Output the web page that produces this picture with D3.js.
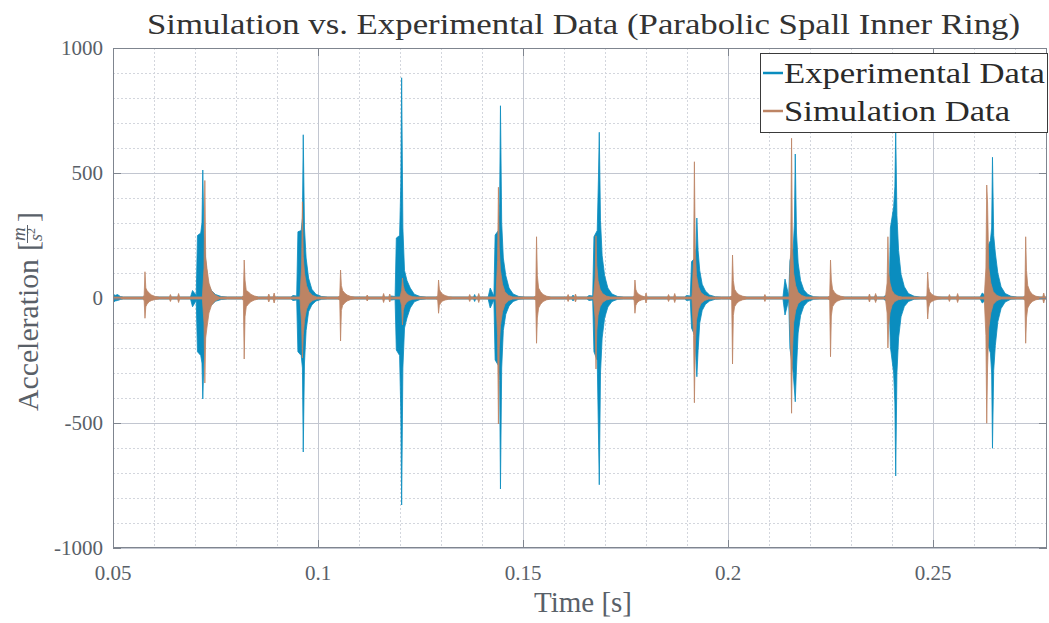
<!DOCTYPE html>
<html><head><meta charset="utf-8">
<script src="https://cdn.jsdelivr.net/npm/d3@7"></script>
<style>body{margin:0;background:#fff}svg{display:block}</style>
</head><body><svg id="c" width="1049" height="623"></svg>
<script>
// ---------------- DATA ----------------
const xTickValues = [0.05, 0.1, 0.15, 0.2, 0.25];
const xTickLabels = ["0.05", "0.1", "0.15", "0.2", "0.25"];
const yTickValues = [-1000, -500, 0, 500, 1000];
const yTickLabels = ["-1000", "-500", "0", "500", "1000"];
const seriesNames = ["Experimental Data", "Simulation Data"];

// Experimental: baseline points
const expBaseTime = [0.0500, 0.0505, 0.0511, 0.0518, 0.0525, 0.2778];
const expBaseHi   = [18, 10, 14, 6, 4, 4];
const expBaseLo   = [-20, -12, -10, -6, -4, -4];
// Experimental: impact bursts (time of main spike) with envelope samples at expOffsets
const expBurstTime = [0.0719, 0.0964, 0.1204, 0.1445, 0.1686, 0.1924, 0.2164, 0.2409, 0.2645];
const expOffsets   = [-0.0030, -0.0025, -0.0016, -0.0013, -0.0005, -0.0002, 0, 0.0003, 0.0007, 0.0013, 0.0021, 0.0031, 0.0045, 0.0060];
const expBurstHi = [
  [4, 30, 10, 250, 260, 300, 512, 245, 150, 55, 30, 14, 6, 4],
  [4, 10, 8, 265, 270, 320, 653, 280, 160, 80, 35, 15, 6, 4],
  [4, 8, 6, 240, 250, 460, 881, 280, 110, 70, 40, 15, 6, 4],
  [4, 40, 8, 252, 270, 380, 769, 300, 160, 90, 40, 16, 6, 4],
  [4, 10, 8, 245, 270, 480, 663, 310, 170, 90, 40, 16, 6, 4],
  [4, 10, 8, 145, 160, 200, 320, 190, 110, 55, 28, 12, 5, 4],
  [4, 76, 8, 150, 200, 300, 576, 260, 140, 70, 32, 14, 5, 4],
  [4, 10, 8, 280, 365, 445, 672, 330, 190, 95, 45, 18, 7, 4],
  [4, 20, 8, 200, 230, 280, 563, 250, 180, 100, 45, 18, 7, 4]
];
const expBurstLo = [
  [-4, -35, -10, -215, -230, -260, -404, -240, -110, -45, -28, -13, -6, -4],
  [-4, -10, -8, -215, -230, -280, -616, -260, -130, -55, -28, -12, -5, -4],
  [-4, -8, -6, -208, -230, -460, -828, -280, -120, -80, -40, -15, -6, -4],
  [-4, -40, -8, -248, -270, -330, -764, -280, -130, -65, -32, -14, -5, -4],
  [-4, -10, -8, -215, -250, -540, -747, -300, -160, -80, -36, -14, -5, -4],
  [-4, -10, -8, -120, -150, -250, -315, -210, -100, -50, -25, -12, -5, -4],
  [-4, -68, -8, -200, -300, -368, -415, -280, -140, -70, -32, -14, -5, -4],
  [-4, -10, -8, -195, -300, -420, -712, -300, -160, -75, -34, -14, -5, -4],
  [-4, -20, -8, -180, -220, -300, -601, -290, -190, -95, -42, -16, -5, -4]
];
const expBlipTime = [0.1382, 0.1622, 0.2360];
const expBlipAmp  = [14, 12, 12];

// Simulation: baseline points
const simBaseTime = [0.0500, 0.2778];
const simBaseHi   = [4, 4];
const simBaseLo   = [-4, -4];
// Simulation: impact bursts with envelope samples at simOffsets
const simBurstTime = [0.0578, 0.0724, 0.0820, 0.0962, 0.1055, 0.1206, 0.1294, 0.1440, 0.1533, 0.1678,
                      0.1773, 0.1918, 0.2011, 0.2155, 0.2250, 0.2390, 0.2487, 0.2631, 0.2726];
const simOffsets = [-0.0006, -0.0002, 0, 0.0002, 0.0005, 0.0010, 0.0016, 0.0025, 0.0035];
const simBurstHi = [
  [4, 10, 105, 40, 30, 20, 12, 6, 4],
  [4, 120, 470, 165, 120, 60, 30, 12, 4],
  [4, 10, 152, 72, 30, 25, 15, 8, 4],
  [4, 120, 385, 165, 100, 50, 25, 10, 4],
  [4, 10, 112, 50, 30, 20, 12, 6, 4],
  [4, 30, 80, 50, 30, 18, 10, 5, 4],
  [4, 8, 72, 35, 25, 15, 10, 5, 4],
  [4, 150, 443, 200, 110, 55, 25, 10, 4],
  [4, 10, 245, 90, 40, 25, 14, 7, 4],
  [4, 80, 249, 130, 70, 35, 18, 8, 4],
  [4, 8, 72, 35, 22, 14, 9, 5, 4],
  [4, 150, 545, 200, 90, 45, 22, 10, 4],
  [4, 10, 172, 70, 35, 22, 13, 7, 4],
  [4, 200, 639, 220, 100, 50, 22, 10, 4],
  [4, 10, 152, 72, 35, 22, 13, 7, 4],
  [4, 60, 245, 100, 60, 30, 15, 7, 4],
  [4, 8, 104, 45, 25, 15, 9, 5, 4],
  [4, 120, 452, 380, 120, 60, 25, 10, 4],
  [4, 10, 245, 110, 50, 28, 15, 7, 4]
];
const simBurstLo = [
  [-4, -10, -81, -35, -25, -15, -10, -6, -4],
  [-4, -100, -340, -160, -120, -60, -30, -12, -4],
  [-4, -10, -244, -75, -35, -25, -15, -8, -4],
  [-4, -100, -240, -150, -90, -45, -22, -10, -4],
  [-4, -10, -172, -50, -30, -20, -12, -6, -4],
  [-4, -30, -108, -50, -30, -18, -10, -5, -4],
  [-4, -8, -61, -30, -20, -12, -8, -5, -4],
  [-4, -150, -504, -200, -110, -55, -25, -10, -4],
  [-4, -10, -181, -80, -40, -25, -14, -7, -4],
  [-4, -80, -284, -130, -70, -35, -18, -8, -4],
  [-4, -8, -61, -30, -20, -12, -8, -5, -4],
  [-4, -150, -419, -200, -90, -45, -22, -10, -4],
  [-4, -10, -264, -70, -35, -22, -13, -7, -4],
  [-4, -200, -461, -220, -100, -50, -22, -10, -4],
  [-4, -10, -235, -72, -35, -22, -13, -7, -4],
  [-4, -60, -200, -110, -60, -30, -15, -7, -4],
  [-4, -8, -84, -40, -22, -14, -9, -5, -4],
  [-4, -150, -501, -280, -120, -60, -25, -10, -4],
  [-4, -10, -181, -80, -40, -25, -14, -7, -4]
];
const simBlipTime = [0.0640, 0.0660, 0.0880, 0.0893, 0.1120, 0.1160, 0.1175, 0.1370, 0.1392, 0.1610,
                     0.1628, 0.1800, 0.1855, 0.1870, 0.2090, 0.2345, 0.2360, 0.2540, 0.2560, 0.2770];
const simBlipAmp  = [14, 18, 16, 20, 12, 18, 16, 14, 18, 14, 16, 20, 14, 18, 14, 16, 18, 14, 18, 20];

// ---------------- BUILD ----------------
function buildSeries(baseT, baseHi, baseLo, bT, offs, bHi, bLo, blT, blA) {
  const pts = [];
  baseT.forEach((t, i) => pts.push({t, hi: baseHi[i], lo: baseLo[i]}));
  bT.forEach((t0, b) => offs.forEach((o, k) => pts.push({t: t0 + o, hi: bHi[b][k], lo: bLo[b][k]})));
  blT.forEach((t0, i) => {
    pts.push({t: t0 - 0.00025, hi: 4, lo: -4});
    pts.push({t: t0, hi: blA[i], lo: -blA[i]});
    pts.push({t: t0 + 0.00025, hi: 4, lo: -4});
  });
  pts.sort((a, b) => a.t - b.t);
  return pts;
}
const expData = buildSeries(expBaseTime, expBaseHi, expBaseLo, expBurstTime, expOffsets, expBurstHi, expBurstLo, expBlipTime, expBlipAmp);
const simData = buildSeries(simBaseTime, simBaseHi, simBaseLo, simBurstTime, simOffsets, simBurstHi, simBurstLo, simBlipTime, simBlipAmp);

const colors = ["#0a8dbf", "#bd8464"];
const L = 113, R = 1047, T = 48, B = 548;
const svg = d3.select("#c");
const x = d3.scaleLinear().domain([0.05, 0.2778]).range([L, R]);
const y = d3.scaleLinear().domain([-1000, 1000]).range([B, T]);
const FONT = "'Liberation Serif', 'Times New Roman', serif";
const axisCol = "#7f858f", labCol = "#596068";

svg.append("defs").append("clipPath").attr("id", "clip")
  .append("rect").attr("x", L).attr("y", T).attr("width", R - L).attr("height", B - T);

// grid
const g = svg.append("g");
const xMinor = d3.range(0.06, 0.2778, 0.01).filter(v => Math.abs(Math.round(v * 20) - v * 20) > 1e-6);
const yMinor = d3.range(-900, 1000, 100).filter(v => v % 500 !== 0);
g.selectAll(".xm").data(xMinor).join("line")
  .attr("x1", d => Math.round(x(d)) + 0.5).attr("x2", d => Math.round(x(d)) + 0.5).attr("y1", T).attr("y2", B)
  .attr("stroke", "#d3d6dd").attr("stroke-dasharray", "2,2");
g.selectAll(".ym").data(yMinor).join("line")
  .attr("y1", d => Math.round(y(d)) + 0.5).attr("y2", d => Math.round(y(d)) + 0.5).attr("x1", L).attr("x2", R)
  .attr("stroke", "#d3d6dd").attr("stroke-dasharray", "2,2");
g.selectAll(".xM").data(xTickValues).join("line")
  .attr("x1", d => Math.round(x(d)) + 0.5).attr("x2", d => Math.round(x(d)) + 0.5).attr("y1", T).attr("y2", B)
  .attr("stroke", "#c2c6d0");
g.selectAll(".yM").data(yTickValues).join("line")
  .attr("y1", d => Math.round(y(d)) + 0.5).attr("y2", d => Math.round(y(d)) + 0.5).attr("x1", L).attr("x2", R)
  .attr("stroke", "#c2c6d0");

// series
const area = d3.area().x(d => x(d.t)).y0(d => y(d.lo)).y1(d => y(d.hi));
const plot = svg.append("g").attr("clip-path", "url(#clip)");
[expData, simData].forEach((data, i) => {
  plot.append("path").datum(data).attr("d", area)
    .attr("fill", colors[i]).attr("stroke", colors[i]).attr("stroke-width", 0.8)
    .attr("stroke-linejoin", "miter");
});

// axes box and ticks
const ax = svg.append("g");
ax.append("rect").attr("x", L + 0.5).attr("y", T + 0.5).attr("width", R - L - 1).attr("height", B - T - 1)
  .attr("fill", "none").attr("stroke", axisCol);
const tl = 8;
ax.selectAll(".xt").data(xTickValues).join("path")
  .attr("d", d => { const p = Math.round(x(d)) + 0.5; return `M${p},${B}V${B - tl}M${p},${T}V${T + tl}`; })
  .attr("stroke", axisCol);
ax.selectAll(".yt").data(yTickValues).join("path")
  .attr("d", d => { const p = Math.round(y(d)) + 0.5; return `M${L},${p}H${L + tl}M${R},${p}H${R - tl}`; })
  .attr("stroke", axisCol);
ax.selectAll(".xl").data(xTickValues).join("text")
  .attr("x", d => x(d)).attr("y", 580).attr("text-anchor", "middle")
  .attr("font-family", FONT).attr("font-size", 21).attr("fill", labCol)
  .text((d, i) => xTickLabels[i]);
ax.selectAll(".yl").data(yTickValues).join("text")
  .attr("x", 103).attr("y", d => y(d) + 7).attr("text-anchor", "end")
  .attr("font-family", FONT).attr("font-size", 21).attr("fill", labCol)
  .text((d, i) => yTickLabels[i]);

// title and labels
svg.append("text").attr("x", 147).attr("y", 34).attr("font-family", FONT).attr("font-size", 30)
  .attr("fill", "#333").attr("textLength", 873).attr("lengthAdjust", "spacingAndGlyphs")
  .text("Simulation vs. Experimental Data (Parabolic Spall Inner Ring)");
svg.append("text").attr("x", 583).attr("y", 612).attr("text-anchor", "middle").attr("font-family", FONT)
  .attr("font-size", 29).attr("fill", labCol).text("Time [s]");

const yl = svg.append("g").attr("transform", "translate(38,411) rotate(-90)")
  .attr("font-family", FONT).attr("fill", labCol);
yl.append("text").attr("x", 0).attr("y", 0).attr("font-size", 29)
  .attr("textLength", 152).attr("lengthAdjust", "spacingAndGlyphs").text("Acceleration");
yl.append("text").attr("x", 160).attr("y", 0).attr("font-size", 30).text("[");
yl.append("text").attr("x", 177).attr("y", -13).attr("text-anchor", "middle").attr("font-size", 19)
  .attr("font-style", "italic").text("m");
yl.append("line").attr("x1", 168).attr("x2", 186).attr("y1", -10.5).attr("y2", -10.5)
  .attr("stroke", labCol).attr("stroke-width", 1);
const s2 = yl.append("text").attr("x", 170).attr("y", 4).attr("font-size", 18).attr("font-style", "italic");
s2.append("tspan").text("s");
s2.append("tspan").attr("dy", -7).attr("font-size", 12).attr("font-style", "normal").text("2");
yl.append("text").attr("x", 189).attr("y", 0).attr("font-size", 30).text("]");

// legend
const lg = svg.append("g");
lg.append("rect").attr("x", 760.5).attr("y", 53.5).attr("width", 287).attr("height", 79)
  .attr("fill", "#fff").attr("stroke", "#3a3a3a").attr("stroke-width", 1);
const legY = [73, 111];
seriesNames.forEach((n, i) => {
  lg.append("line").attr("x1", 763).attr("x2", 783).attr("y1", legY[i]).attr("y2", legY[i])
    .attr("stroke", colors[i]).attr("stroke-width", 2.5);
  lg.append("text").attr("x", 784).attr("y", legY[i] + 10).attr("font-family", FONT).attr("font-size", 29)
    .attr("fill", "#2a2a2a").attr("textLength", i === 0 ? 261 : 226).attr("lengthAdjust", "spacingAndGlyphs")
    .text(n);
});
</script></body></html>
